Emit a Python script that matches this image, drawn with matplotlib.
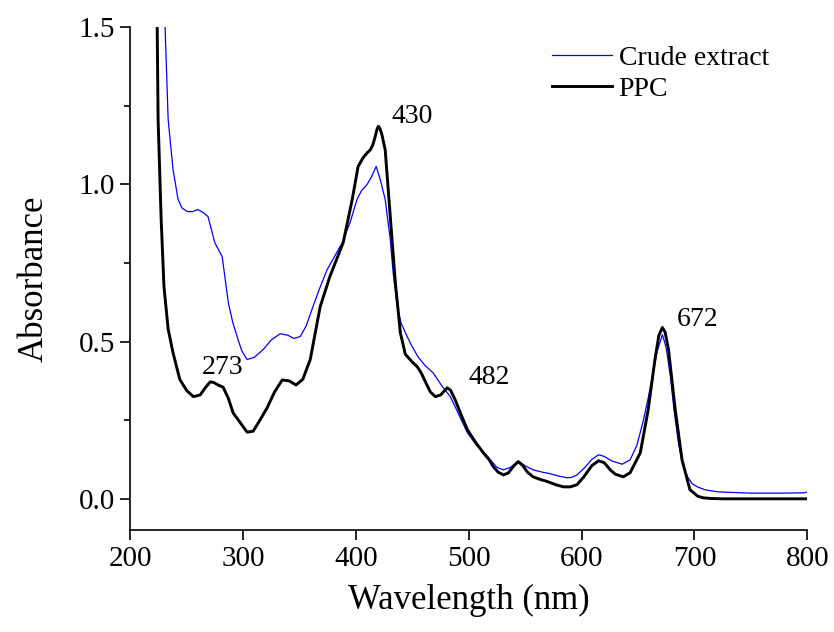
import matplotlib
matplotlib.use("Agg")
import matplotlib.pyplot as plt
from matplotlib.ticker import MultipleLocator, FormatStrFormatter

plt.rcParams['font.family'] = ['Liberation Serif', 'DejaVu Serif']

# PPC (black) spectrum
ppc_wl = [221, 224, 224.8, 227.5, 230, 233.7, 238, 244, 250, 256, 262, 267, 271,
          274, 278, 282.4, 287, 291.3, 297, 303.7, 309, 315, 321.5, 328, 334.8, 341,
          347, 353, 359.6, 368.4, 377, 388.8, 396.8, 402, 406.6, 410, 412.8, 415,
          417, 418.7, 420, 421.3, 423, 426, 430.5, 435, 439.4, 443.8, 446.5, 450,
          454.4, 458, 461.5, 466, 470.4, 475, 481, 484, 488, 493, 498.8, 506, 513,
          518, 521.8, 526, 530.7, 535, 540, 544, 548, 552, 557, 563, 569.7, 577, 584,
          590, 596, 602, 609, 615, 620, 626, 630, 637, 643, 652, 659, 665, 668.5,
          671.6, 674, 677, 683, 689, 696, 703, 708, 715, 725, 740, 760, 780, 800]
ppc_abs = [1.75, 1.50, 1.207, 0.89, 0.675, 0.54, 0.465, 0.38, 0.345, 0.325, 0.33,
           0.355, 0.372, 0.37, 0.362, 0.355, 0.32, 0.273, 0.245, 0.212, 0.215, 0.25,
           0.29, 0.34, 0.378, 0.375, 0.362, 0.38, 0.443, 0.611, 0.707, 0.815, 0.952,
           1.057, 1.086, 1.1, 1.11, 1.125, 1.15, 1.175, 1.185, 1.178, 1.16, 1.11,
           0.898, 0.688, 0.529, 0.46, 0.449, 0.435, 0.42, 0.40, 0.373, 0.34, 0.325,
           0.33, 0.353, 0.345, 0.315, 0.27, 0.22, 0.18, 0.146, 0.125, 0.102, 0.085,
           0.076, 0.082, 0.105, 0.118, 0.105, 0.085, 0.07, 0.062, 0.055, 0.045,
           0.038, 0.038, 0.045, 0.07, 0.105, 0.121, 0.115, 0.09, 0.078, 0.07, 0.083,
           0.146, 0.283, 0.443, 0.52, 0.545, 0.53, 0.475, 0.283, 0.124, 0.029, 0.008,
           0.003, 0.001, 0.0, 0.0, 0.0, 0.0, 0.0]

# Crude extract (blue) spectrum
crude_wl = [228, 231, 233.7, 238, 242.5, 246, 250.5, 255, 260, 264, 269, 275,
            281.6, 287, 291, 295.7, 299, 303.7, 310, 318, 325, 333, 340, 345, 350.7,
            356, 362, 368, 374.6, 381, 388, 395, 401, 405, 410, 414, 418, 421.6, 426,
            430.5, 433, 436.7, 440, 443.8, 449, 455, 461, 468.6, 476, 483.7, 491,
            498.8, 506, 513, 519, 525, 530.7, 537, 544, 550, 557, 565, 572, 580, 587,
            591, 596, 603, 609, 615, 620, 627, 636, 643, 649, 654.8, 659, 662.7,
            667, 671.6, 675, 678.7, 682, 685.8, 689.5, 693.8, 698, 702.6, 710, 721,
            735, 750, 775, 797, 800]
crude_abs = [1.75, 1.50, 1.207, 1.048, 0.952, 0.925, 0.914, 0.913, 0.92, 0.912,
             0.898, 0.815, 0.77, 0.624, 0.56, 0.506, 0.47, 0.443, 0.45, 0.475, 0.505,
             0.525, 0.52, 0.51, 0.516, 0.55, 0.611, 0.67, 0.729, 0.77, 0.815, 0.88,
             0.952, 0.98, 1.0, 1.025, 1.057, 1.016, 0.952, 0.825, 0.72, 0.611, 0.56,
             0.529, 0.49, 0.452, 0.425, 0.40, 0.36, 0.325, 0.27, 0.21, 0.175, 0.15,
             0.125, 0.1, 0.092, 0.1, 0.12, 0.105, 0.092, 0.085, 0.08, 0.072, 0.067,
             0.068, 0.076, 0.10, 0.125, 0.14, 0.135, 0.12, 0.11, 0.124, 0.17, 0.25,
             0.32, 0.389, 0.47, 0.522, 0.48, 0.389, 0.28, 0.178, 0.11, 0.07, 0.048,
             0.038, 0.028, 0.022, 0.02, 0.018, 0.018, 0.019, 0.022]

peak_labels = ['273', '430', '482', '672']
peak_x = [282, 450, 518, 703]
peak_y = [0.417, 1.217, 0.385, 0.57]

fig = plt.figure(figsize=(8.34, 6.32), dpi=100)
ax = fig.add_axes([0.156, 0.161, 0.812, 0.796])

ax.plot(crude_wl, crude_abs, color='#0000ff', lw=0.9, label='Crude extract')
ax.plot(ppc_wl, ppc_abs, color='black', lw=2.1, label='PPC')

for t, x, y in zip(peak_labels, peak_x, peak_y):
    ax.text(x, y, t, fontsize=20, ha='center', va='center')

ax.set_xlim(200, 800)
ax.set_ylim(-0.1, 1.5)
ax.xaxis.set_major_locator(MultipleLocator(100))
ax.yaxis.set_major_locator(MultipleLocator(0.5))
ax.yaxis.set_minor_locator(MultipleLocator(0.25))
ax.yaxis.set_major_formatter(FormatStrFormatter('%.1f'))

for s in ['top', 'right']:
    ax.spines[s].set_visible(False)
for s in ['left', 'bottom']:
    ax.spines[s].set_linewidth(1.2)
ax.tick_params(which='major', direction='out', length=7, width=1.2, labelsize=21,
               pad=4)
ax.tick_params(which='minor', direction='out', length=4, width=1.2)

ax.set_xlabel('Wavelength (nm)', fontsize=25, labelpad=9)
ax.set_ylabel('Absorbance', fontsize=25, labelpad=20)

ax.legend(loc='upper right', bbox_to_anchor=(0.98, 1.014), frameon=False,
          fontsize=20, handlelength=2.15, handletextpad=0.25, labelspacing=0.2)

fig.savefig('out.png', dpi=100)
